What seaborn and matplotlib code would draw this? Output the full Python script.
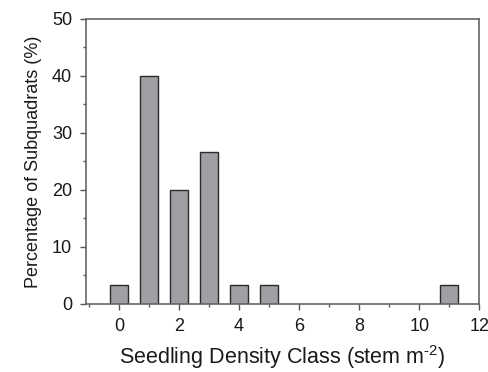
import matplotlib
matplotlib.use("Agg")
import matplotlib.pyplot as plt
import seaborn as sns
import pandas as pd
from matplotlib.ticker import MultipleLocator

density_class = [0, 1, 2, 3, 4, 5, 11]
percent = [3.33, 40.0, 20.0, 26.67, 3.33, 3.33, 3.33]

sns.set_style("white")
plt.rcParams['font.family'] = ['Liberation Sans', 'DejaVu Sans']
plt.rcParams['mathtext.fontset'] = 'custom'
plt.rcParams['mathtext.rm'] = 'Liberation Sans'

df = pd.DataFrame({"cls": density_class, "pct": percent})

fig = plt.figure(figsize=(4.89, 3.72), dpi=100)
ax = fig.add_axes([0.176, 0.183, 0.804, 0.766])
sns.barplot(data=df, x="cls", y="pct", native_scale=True, width=0.6,
            color="#a0a0a4", saturation=1, edgecolor="#2a2a2a", linewidth=1.0, ax=ax)

ax.set_xlim(-1.1, 12)
ax.set_ylim(0, 50)
ax.xaxis.set_major_locator(MultipleLocator(2))
ax.xaxis.set_minor_locator(MultipleLocator(1))
ax.yaxis.set_major_locator(MultipleLocator(10))
ax.yaxis.set_minor_locator(MultipleLocator(5))
ax.tick_params(axis="both", which="major", direction="out", length=4, width=1, color="#555555",
               labelsize=13, labelcolor="#1a1a1a", bottom=True, left=True, top=False, right=False, pad=6)
ax.tick_params(axis="both", which="minor", direction="out", length=2.5, width=1, color="#555555",
               bottom=True, left=True, top=False, right=False)
for s in ax.spines.values():
    s.set_color("#666666")
    s.set_linewidth(1.2)
ax.set_xlabel("Seedling Density Class (stem m$^{\\text{-}2}$)", fontsize=15.5, labelpad=6, color="#1a1a1a")
ax.set_ylabel("Percentage of Subquadrats (%)", fontsize=13, labelpad=7, color="#1a1a1a")
fig.savefig("out.png", dpi=100)
